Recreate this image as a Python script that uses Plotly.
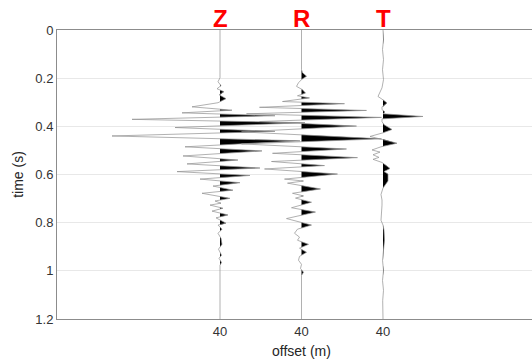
import plotly.graph_objects as go

# ---------------- data (time in s, amplitude in relative units) ----------------
component_names = ["Z", "R", "T"]
offset_labels = ["40", "40", "40"]
trace_positions = [2, 3, 4]

z_time = [0.0, 0.198, 0.215, 0.231, 0.244, 0.256, 0.269, 0.285, 0.302, 0.319, 0.333, 0.344,
          0.356, 0.371, 0.385, 0.405, 0.421, 0.440, 0.460, 0.485, 0.502, 0.523, 0.540, 0.556,
          0.573, 0.588, 0.604, 0.619, 0.634, 0.648, 0.665, 0.678, 0.699, 0.710, 0.719, 0.727,
          0.740, 0.752, 0.768, 0.780, 0.802, 0.810, 0.827, 0.844, 0.865, 0.890, 0.910, 0.935,
          0.948, 0.965, 0.977, 1.2]
z_amp = [0, 0, -2, 1, -3, 4, -1, 6, -2, -28, 12, -38,
         55, -88, 85, -45, 55, -108, 80, -35, 42, -37, 18, -33,
         40, -43, 30, -20, 20, -7, 13, -18, 10, -5, 1, -10,
         3, -8, 8, -4, 6, -2, 2, -2, 1, 2, -1.5, 1.5,
         -1, 1.5, 0, 0]

r_time = [0.0, 0.164, 0.177, 0.192, 0.206, 0.219, 0.234, 0.248, 0.262, 0.273, 0.282, 0.297,
          0.306, 0.321, 0.334, 0.348, 0.363, 0.380, 0.399, 0.423, 0.452, 0.473, 0.494, 0.512,
          0.530, 0.546, 0.563, 0.577, 0.598, 0.619, 0.627, 0.636, 0.660, 0.678, 0.689, 0.698,
          0.715, 0.738, 0.756, 0.783, 0.810, 0.827, 0.844, 0.860, 0.873, 0.890, 0.906, 0.923,
          0.940, 0.956, 0.973, 0.990, 1.006, 1.019, 1.2]
r_amp = [0, 0, 1, 5, 0, -3, -5, 1, 4, -4, 8, -19,
         43, -42, 65, -55, 80, -42, 55, -60, 80, -60, 45, -29,
         56, -30, 23, -37, 36, -17, 2, -14, 19, -9, 2, -6,
         10, -10, 14, -15, 10, -4, -7, -2, -4, 7, -2, 5,
         -2, -3, 0, -1, 2, 0, 0]

t_time = [0.0, 0.040, 0.081, 0.123, 0.165, 0.206, 0.240, 0.256, 0.276, 0.290, 0.303, 0.319,
          0.331, 0.340, 0.348, 0.359, 0.369, 0.381, 0.393, 0.413, 0.427, 0.442, 0.456, 0.470,
          0.485, 0.498, 0.507, 0.518, 0.529, 0.537, 0.550, 0.562, 0.575, 0.588, 0.598, 0.627,
          0.656, 0.683, 0.706, 0.727, 0.790, 0.810, 0.831, 0.873, 0.915, 0.956, 0.998, 1.040,
          1.081, 1.123, 1.2]
t_amp = [0, 0.5, -0.5, 0.5, -0.5, 0.5, -1, -3, -5, 0, 4, -1,
         -1, 2, 0, 40, -1, -1, 1, 9, 0, -13, 2, 14,
         -2, -11, -3, -10, -4, -10, -1, 3, 7, 1, 5, 5,
         0, -2, -1, -1, -2, 0, 1, 1.5, 0.5, -0.5, 0.5, -0.5,
         0.5, -0.3, 0]

gain = 1 / 81.5  # relative amplitude -> axis units (trace spacing = 1)

traces = [(z_time, z_amp), (r_time, r_amp), (t_time, t_amp)]

fig = go.Figure()


def positive_polygon(times, amps, base):
    """Clip the wiggle to its positive part (with exact zero crossings) and close along the baseline."""
    px, py = [], []
    for i in range(len(times)):
        a = amps[i]
        if i > 0:
            a0 = amps[i - 1]
            if (a0 > 0 > a) or (a0 < 0 < a):
                tc = times[i - 1] + (times[i] - times[i - 1]) * a0 / (a0 - a)
                px.append(base)
                py.append(tc)
        px.append(base + max(a, 0) * gain)
        py.append(times[i])
    px += [base, base]
    py += [times[-1], times[0]]
    return px, py


for (tt, aa), pos in zip(traces, trace_positions):
    fx, fy = positive_polygon(tt, aa, pos)
    fig.add_trace(go.Scatter(x=fx, y=fy, mode="lines", fill="toself",
                             fillcolor="black", line=dict(color="rgba(0,0,0,0)", width=0),
                             hoverinfo="skip", showlegend=False))
    fig.add_trace(go.Scatter(x=[pos + a * gain for a in aa], y=tt, mode="lines",
                             line=dict(color="#8f8f8f", width=0.7),
                             hoverinfo="skip", showlegend=False))

for name, pos in zip(component_names, trace_positions):
    fig.add_annotation(x=pos, y=1, xref="x", yref="paper", yanchor="bottom", yshift=-3,
                       text=f"<b>{name}</b>", showarrow=False, borderpad=0,
                       font=dict(family="Liberation Sans, Arial", size=24, color="#ff0000"))

fig.add_annotation(x=3, y=0, xref="x", yref="paper", yanchor="top", yshift=-22,
                   text="offset (m)", showarrow=False,
                   font=dict(family="Liberation Sans, Arial", size=14, color="#262626"))

fig.update_layout(
    width=532, height=361,
    margin=dict(l=57, r=0, t=30, b=42),
    paper_bgcolor="white", plot_bgcolor="white",
    font=dict(family="Liberation Sans, Arial", size=13, color="#333333"),
    xaxis=dict(range=[0, 475 / 81.5], tickvals=trace_positions, ticktext=offset_labels,
               showgrid=False, zeroline=False, showline=True, mirror=True,
               linecolor="#8c8c8c", linewidth=1, ticks="", ticklen=0,
               tickfont=dict(size=13, color="#333333")),
    yaxis=dict(range=[1.2, 0], tickvals=[0, 0.2, 0.4, 0.6, 0.8, 1, 1.2],
               ticktext=["0", "0.2", "0.4", "0.6", "0.8", "1", "1.2"],
               showgrid=True, gridcolor="#e8e8e8", gridwidth=1, zeroline=False,
               showline=True, linecolor="#8c8c8c", linewidth=1, ticks="",
               title=dict(text="time (s)", font=dict(size=14, color="#262626"), standoff=8),
               tickfont=dict(size=13, color="#333333")),
)

fig.write_html("out.html", config={"displayModeBar": False},
               post_script="document.body.style.margin='0';")
